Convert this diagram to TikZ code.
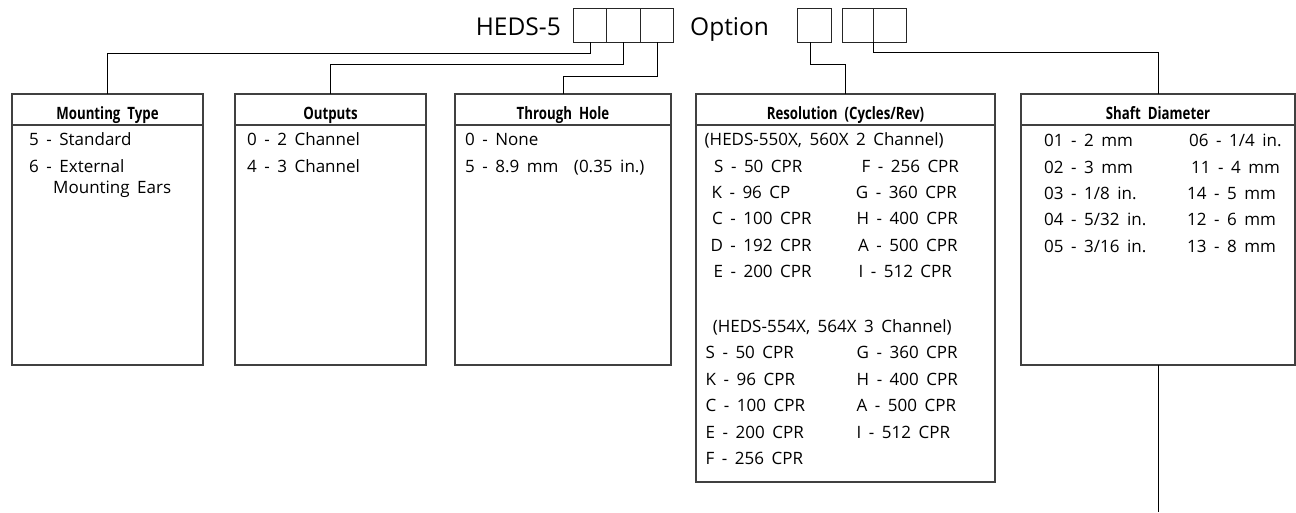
\documentclass[tikz,border=0pt]{standalone}
\usepackage{fontspec}
\setmainfont{Open Sans}
\newfontfamily\condbold{Open Sans}[FakeStretch=0.78]
\newcommand{\headtext}{\condbold\bfseries\fontsize{17}{20}\selectfont\spaceskip=7pt\relax}
\newcommand{\itemtext}{\fontsize{17}{20}\selectfont\spaceskip=7.5pt\relax}
\usetikzlibrary{shapes,positioning}
\tikzstyle{line} = [draw, line width=1pt]
\tikzstyle{slot} = [rectangle, draw=black!85, line width=1pt, minimum height=34pt, inner sep=0pt, outer sep=0pt]
\tikzstyle{partno} = [inner sep=0pt, font=\fontsize{24.5}{28}\selectfont]
\tikzstyle{outer} = [rectangle, draw=black!75, line width=1.3pt, minimum height=271pt, inner sep=0pt, outer sep=0pt]
\tikzstyle{headbox} = [rectangle, draw=black!75, line width=1.3pt, minimum height=31pt, inner sep=0pt, outer sep=0pt,
     anchor=north, text height=19pt, text depth=0pt, font=\headtext]
\tikzstyle{item} = [inner sep=0pt, anchor=base west, font=\itemtext]

\begin{document}
\begin{tikzpicture}[x=1pt, y=-1pt]
\useasboundingbox (0,0) rectangle (1296,512);

\node (heds) [partno, anchor=base east] at (561,35) {HEDS-5};
\node (s1) [slot, minimum width=33.5pt] at (590,25) {};
\node (s2) [slot, minimum width=33.5pt, right=0pt of s1] {};
\node (s3) [slot, minimum width=33.5pt, right=0pt of s2] {};

\node (opt) [partno, anchor=base west] at (690,35) {Option};
\node (oa) [slot, minimum width=34pt] at (814,25) {};
\node (ob) [slot, minimum width=31pt] at (857.5,25) {};
\node (oc) [slot, minimum width=33pt, right=0pt of ob] {};

\node (mount) [outer, minimum width=191pt, anchor=north] at (107.5,94) {};
\node (outp) [outer, minimum width=191pt, right=32pt of mount.north east, anchor=north west] {};
\node (thru) [outer, minimum width=216pt, right=29pt of outp.north east, anchor=north west] {};
\node (res) [outer, minimum width=299pt, minimum height=388pt, right=25pt of thru.north east, anchor=north west] {};
\node (shaft) [outer, minimum width=274pt, right=26pt of res.north east, anchor=north west] {};

\node (mount_h) [headbox, minimum width=191pt] at (mount.north) {Mounting Type};
\node (outp_h) [headbox, minimum width=191pt] at (outp.north) {Outputs};
\node (thru_h) [headbox, minimum width=216pt] at (thru.north) {Through Hole};
\node (res_h) [headbox, minimum width=299pt] at (res.north) {Resolution (Cycles/Rev)};
\node (shaft_h) [headbox, minimum width=274pt] at (shaft.north) {Shaft Diameter};

\node (mount5) [item] at (29,145.5) {5 - Standard};
\node (mount6) [item] at (29,172.7) {6 - External};
\node (mount6b) [item] at (53,193.3) {Mounting Ears};

\node (outp0) [item] at (247,145.5) {0 - 2 Channel};
\node (outp4) [item] at (247,172.7) {4 - 3 Channel};

\node (thru0) [item] at (465,145.5) {0 - None};
\node (thru5) [item] at (465,172.7) {5 - 8.9 mm\hspace{8pt} (0.35 in.)};

\node (res2ch) [item] at (704.5,145.5) {(HEDS-550X, 560X 2 Channel)};
\node (res2S) [item] at (714,172) {S - 50 CPR};
\node (res2K) [item] at (711.4,198.3) {K - 96 CP};
\node (res2C) [item] at (712,224.7) {C - 100 CPR};
\node (res2D) [item] at (710.4,251) {D - 192 CPR};
\node (res2E) [item] at (713.4,277.5) {E - 200 CPR};
\node (res2F) [item] at (861.4,172) {F - 256 CPR};
\node (res2G) [item] at (855.7,198.3) {G - 360 CPR};
\node (res2H) [item] at (856.4,224.7) {H - 400 CPR};
\node (res2A) [item] at (858,251) {A - 500 CPR};
\node (res2I) [item] at (858.4,277.5) {I - 512 CPR};

\node (res3ch) [item] at (712.6,332.5) {(HEDS-554X, 564X 3 Channel)};
\node (res3S) [item] at (705.5,358.5) {S - 50 CPR};
\node (res3K) [item] at (705.5,385) {K - 96 CPR};
\node (res3C) [item] at (705.5,411.5) {C - 100 CPR};
\node (res3E) [item] at (705.5,438) {E - 200 CPR};
\node (res3F) [item] at (705.5,464.5) {F - 256 CPR};
\node (res3G) [item] at (856.5,358.5) {G - 360 CPR};
\node (res3H) [item] at (856.5,385) {H - 400 CPR};
\node (res3A) [item] at (856.5,411.5) {A - 500 CPR};
\node (res3I) [item] at (856.5,438) {I - 512 CPR};

\node (shaft01) [item] at (1044,146.5) {01 - 2 mm};
\node (shaft02) [item] at (1044,173) {02 - 3 mm};
\node (shaft03) [item] at (1044,199.5) {03 - 1/8 in.};
\node (shaft04) [item] at (1044,225.5) {04 - 5/32 in.};
\node (shaft05) [item] at (1044,252) {05 - 3/16 in.};
\node (shaft06) [item] at (1189,146.5) {06 - 1/4 in.};
\node (shaft11) [item] at (1191,173) {11 - 4 mm};
\node (shaft14) [item] at (1187,199.5) {14 - 5 mm};
\node (shaft12) [item] at (1187,225.5) {12 - 6 mm};
\node (shaft13) [item] at (1187,252) {13 - 8 mm};

\draw [line] (s1.south) -- ++(0,11) -| (mount.north);
\draw [line] (s2.south) -- ++(0,22) -| (outp.north);
\draw [line] (s3.south) -- ++(0,34) -| (thru.north);
\draw [line] ([xshift=-3.5pt]oa.south) -- ++(0,22) -| (res.north);
\draw [line] (ob.south east) -- ++(0,10) -| (shaft.north);
\coordinate (tail) at (1158,512);
\draw [line] (shaft.south) -- (tail);

\end{tikzpicture}
\end{document}
